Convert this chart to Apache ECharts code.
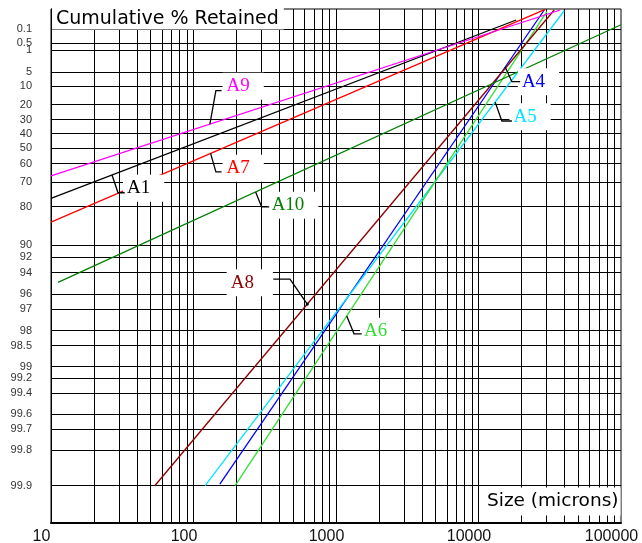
<!DOCTYPE html>
<html><head><meta charset="utf-8">
<script src="https://cdn.jsdelivr.net/npm/echarts@6/dist/echarts.min.js"></script>
<style>html,body{margin:0;padding:0;background:#fff}#c{width:642px;height:543px}</style>
</head><body><div id="c"></div>
<script>
// ---- data: [size (microns), cumulative % retained] at the two ends of each straight line
const seriesNames = ['A1', 'A4', 'A5', 'A6', 'A7', 'A8', 'A9', 'A10'];
const A1  = [[10, 77.0],   [18390, 0.0258]];
const A4  = [[153, 99.897], [28920, 0.0044]];
const A5  = [[120.7, 99.9], [39960, 0.0051]];
const A6  = [[196, 99.9],  [30210, 0.0061]];
const A7  = [[10, 84.8],   [29390, 0.0039]];
const A8  = [[53.5, 99.9], [33990, 0.0044]];
const A9  = [[10, 66.8],   [37470, 0.0044]];
const A10 = [[11.2, 95.0], [100000, 0.053]];
const seriesData = [A1, A4, A5, A6, A7, A8, A9, A10];
// size (microns) on each line where its name label is attached
const labelAnchorSize = [26.8, 15390, 13090, 1189, 131.8, 628.6, 130.3, 272.9];

const yTickLabels = ['0.1','0.5','1','5','10','20','30','40','50','60','70','80','90','92','94','96','97','98','98.5','99','99.2','99.4','99.6','99.7','99.8','99.9'];
const xTickLabels = [10, 100, 1000, 10000, 100000];

// ---- styles
const seriesColors = ['#000000', '#0000ff', '#00e5ff', '#33dd33', '#ff0000', '#8b0000', '#ff00ff', '#008000'];
// callout layout offsets from the anchor point (px): elbow, end of leader, box-left x, text centre y
const callouts = [
  {e:[6,17.8],   end:12.7, tx:11,    ty:13.4},
  {e:[6.7,14.6], end:15,   tx:12.7,  ty:14.6},
  {e:[6.7,18.9], end:16.7, tx:14.3,  ty:14.6},
  {e:[7.3,17.7], end:15,   tx:13.3,  ty:15.2},
  {e:[5.3,18.4], end:11,   tx:12,    ty:14.7},
  {e:[-17.3,-25],end:-34,  tx:-80.6, ty:-21.3, dot:true, padR:19},
  {e:[6,-33.5],  end:11.7, tx:12.7,  ty:-37.9},
  {e:[6,15],     end:13.6, tx:12,    ty:13.3}
];

// Rosin-Rammler ordinate
function rr(R) { return Math.log(Math.log(100 / R)); }
const yTickVals = yTickLabels.map(s => rr(parseFloat(s)));
const Y_MIN = -7.629, Y_MAX = 2.325, X_MIN = 10, X_MAX = 100000;

const xGrid = [];
[10, 100, 1000, 10000].forEach(d => { for (let m = 1; m <= 9; m++) if (m > 1 || d > 10) xGrid.push(m * d); });

const gridSegs = xGrid.map(v => ({coords: [[v, Y_MIN], [v, Y_MAX]]}))
  .concat(yTickVals.map(v => ({coords: [[X_MIN, v], [X_MAX, v]]})));

const chart = echarts.init(document.getElementById('c'), null, {renderer: 'canvas'});

const series = seriesNames.map((n, i) => ({
  name: n, type: 'line', z: 5,
  data: seriesData[i].map(p => [p[0], rr(p[1])]),
  symbol: 'none', lineStyle: {color: seriesColors[i], width: 1.3}, silent: true
}));
series.unshift({
  name: 'grid', type: 'lines', coordinateSystem: 'cartesian2d', silent: true, z: 1,
  polyline: false, effect: {show: false},
  lineStyle: {color: '#000', width: 1, opacity: 1, curveness: 0},
  data: gridSegs
});

chart.setOption({
  animation: false,
  backgroundColor: '#fff',
  grid: {left: 51, right: 21, top: 9, bottom: 20, show: true, borderColor: '#000', borderWidth: 1,
         containLabel: false, outerBoundsMode: 'none'},
  xAxis: {
    type: 'log', logBase: 10, min: X_MIN, max: X_MAX, position: 'bottom',
    axisLine: {show: true, onZero: false, lineStyle: {color: '#000', width: 2}},
    axisTick: {show: false}, splitLine: {show: false}, minorTick: {show: false},
    axisLabel: {customValues: xTickLabels, formatter: v => String(Math.round(v)), color: '#111',
                fontFamily: 'Liberation Sans', fontSize: 16, margin: 6, padding: [0, 19, 0, 0]}
  },
  yAxis: {
    type: 'value', min: Y_MIN, max: Y_MAX, position: 'left',
    axisLine: {show: true, onZero: false, lineStyle: {color: '#000', width: 1}},
    axisTick: {show: false}, splitLine: {show: false},
    axisLabel: {
      customValues: yTickVals,
      formatter: v => { const k = yTickVals.findIndex(t => Math.abs(t - v) < 1e-6); return k >= 0 ? yTickLabels[k] : ''; },
      color: '#333', fontFamily: 'Liberation Sans', fontSize: 11, margin: 19, align: 'right'
    }
  },
  series: series
});

// annotations
const g = [];
seriesNames.forEach((n, i) => {
  const d = seriesData[i];
  const lx0 = Math.log10(d[0][0]), lx1 = Math.log10(d[1][0]);
  const y0 = rr(d[0][1]), y1 = rr(d[1][1]);
  const t = (Math.log10(labelAnchorSize[i]) - lx0) / (lx1 - lx0);
  const p = chart.convertToPixel({gridIndex: 0}, [labelAnchorSize[i], y0 + t * (y1 - y0)]);
  const c = callouts[i];
  g.push({type: 'text', z: 50, x: p[0] + c.tx, y: p[1] + c.ty,
    style: {text: n, fill: seriesColors[i], font: '19px "Liberation Serif"', align: 'left', verticalAlign: 'middle',
            backgroundColor: '#fff', padding: [4, c.padR || 14, 4, 4]}});
  g.push({type: 'polyline', z: 60, shape: {points: [[p[0], p[1]], [p[0] + c.e[0], p[1] + c.e[1]], [p[0] + c.end, p[1] + c.e[1]]]},
    style: {stroke: '#000', lineWidth: 1.3, fill: null}});
  if (c.dot) g.push({type: 'circle', z: 60, shape: {cx: p[0], cy: p[1], r: 1.6}, style: {fill: '#000'}});
});
g.push({type: 'text', z: 70, x: 52, y: 18.6,
  style: {text: 'Cumulative % Retained', fill: '#000', font: '19px "DejaVu Sans"', verticalAlign: 'middle',
          backgroundColor: '#fff', padding: [1, 5, 2, 4]}});
g.push({type: 'text', z: 70, x: 482, y: 501.5,
  style: {text: 'Size (microns)', fill: '#000', font: '18.5px "DejaVu Sans"', verticalAlign: 'middle',
          backgroundColor: '#fff', padding: [6, 2, 3, 5]}});
chart.setOption({graphic: g});
</script></body></html>
